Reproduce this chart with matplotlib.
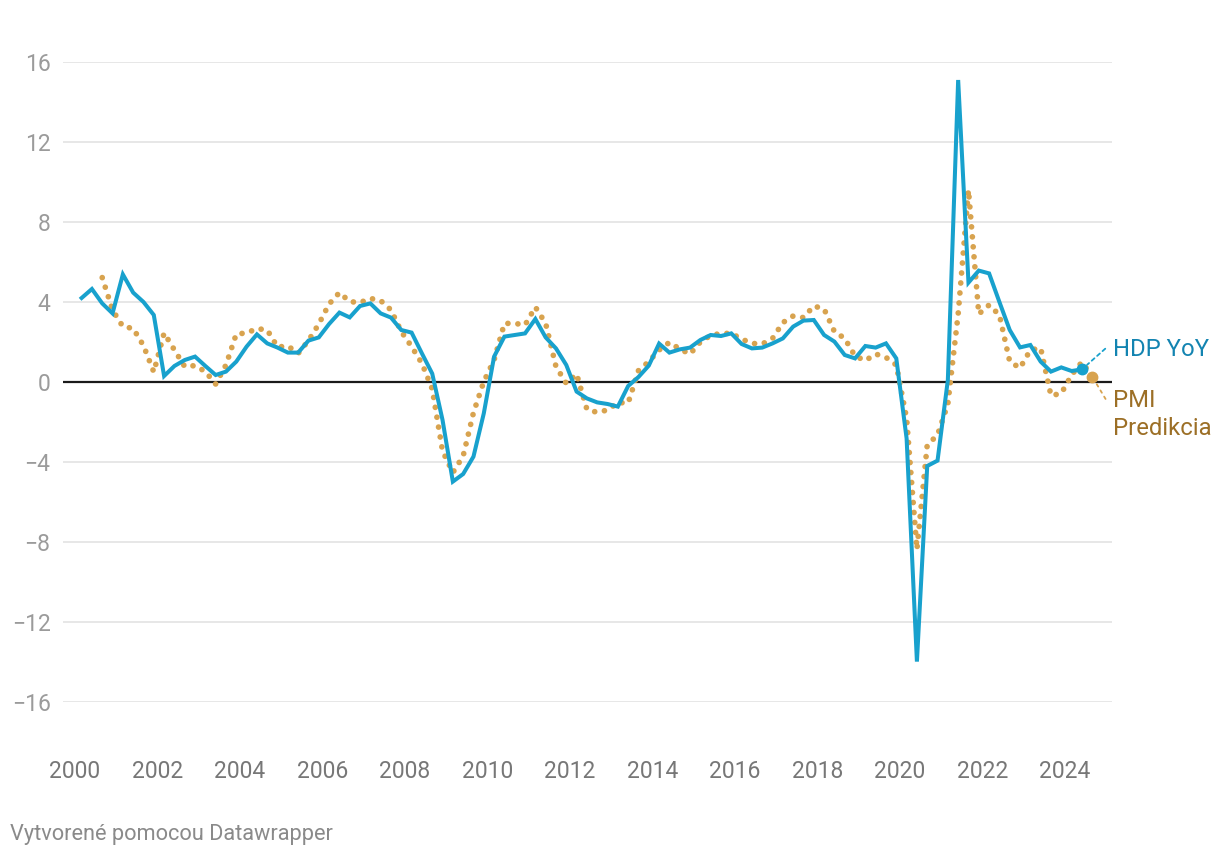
import matplotlib
matplotlib.use("Agg")
import matplotlib.pyplot as plt
import numpy as np

plt.rcParams['font.family'] = ['Roboto', 'DejaVu Sans']

# Quarterly GDP YoY (HDP YoY), 2000Q1 .. 2024Q2
hdp_yoy = [
    4.2, 4.65, 3.93, 3.43,      # 2000
    5.38, 4.47, 4.0, 3.35,      # 2001
    0.3, 0.8, 1.1, 1.27,        # 2002
    0.8, 0.35, 0.52, 1.02,      # 2003
    1.77, 2.38, 1.93, 1.72,     # 2004
    1.47, 1.47, 2.07, 2.23,     # 2005
    2.9, 3.47, 3.23, 3.8,       # 2006
    3.93, 3.43, 3.22, 2.6,      # 2007
    2.47, 1.43, 0.42, -1.9,     # 2008
    -4.98, -4.6, -3.73, -1.57,  # 2009
    1.27, 2.27, 2.35, 2.43,     # 2010
    3.15, 2.23, 1.68, 0.85,     # 2011
    -0.48, -0.82, -1.02, -1.1,  # 2012
    -1.23, -0.2, 0.25, 0.82,    # 2013
    1.92, 1.47, 1.63, 1.72,     # 2014
    2.1, 2.35, 2.3, 2.43,       # 2015
    1.9, 1.68, 1.72, 1.93,      # 2016
    2.18, 2.77, 3.07, 3.1,      # 2017
    2.35, 2.02, 1.35, 1.18,     # 2018
    1.8, 1.72, 1.93, 1.18,      # 2019
    -2.82, -13.98, -4.2, -3.93, # 2020
    0.1, 15.1, 4.97, 5.57,      # 2021
    5.43, 4.0, 2.6, 1.73,       # 2022
    1.85, 1.02, 0.52, 0.73,     # 2023
    0.55, 0.63,                 # 2024
]

# PMI-based prediction, quarterly, 2000Q3 .. 2024Q3
pmi_pred = [
    5.22, 3.6,                  # 2000 Q3-Q4
    2.77, 2.68, 1.82, 0.5,      # 2001
    2.45, 1.6, 0.77, 0.82,      # 2002
    0.52, -0.1, 0.85, 2.4,      # 2003
    2.45, 2.67, 2.6, 1.75,      # 2004
    1.8, 1.43, 2.07, 2.9,       # 2005
    3.9, 4.47, 4.02, 3.97,      # 2006
    4.18, 4.07, 3.6, 2.52,      # 2007
    1.77, 0.93, -0.35, -3.45,   # 2008
    -4.53, -3.7, -1.53, 0.02,   # 2009
    1.1, 2.93, 2.93, 2.85,      # 2010
    3.75, 2.93, 0.77, -0.07,    # 2011
    0.4, -1.37, -1.52, -1.4,    # 2012
    -1.03, -1.05, 0.57, 1.02,   # 2013
    1.6, 1.98, 1.65, 1.4,       # 2014
    2.0, 2.33, 2.43, 2.43,      # 2015
    2.15, 1.93, 1.9, 2.18,      # 2016
    2.97, 3.3, 3.22, 3.8,       # 2017
    3.65, 2.52, 2.18, 1.3,      # 2018
    1.07, 1.4, 1.23, 0.85,      # 2019
    -1.82, -8.37, -3.15, -2.65, # 2020
    -1.1, 3.4, 9.6, 3.4,        # 2021
    3.85, 3.35, 1.02, 0.7,      # 2022
    1.6, 1.7, -0.68, -0.57,     # 2023
    0.35, 1.0, 0.27,            # 2024 Q1-Q3
]

start_year = 2000
hdp_first_q = 0     # 2000Q1
pmi_first_q = 2     # 2000Q3
x_ticks = list(range(2000, 2025, 2))
y_ticks = [-16, -12, -8, -4, 0, 4, 8, 12, 16]
label_hdp = "HDP YoY"
label_pmi = ["PMI", "Predikcia"]
footer = "Vytvorené pomocou Datawrapper"

def qpos(first, n):
    return start_year + 0.16 + 0.25 * (first + np.arange(n))

x_hdp = qpos(hdp_first_q, len(hdp_yoy))
x_pmi = qpos(pmi_first_q, len(pmi_pred))

BLUE = "#18a1cd"
BLUE_TXT = "#1384b1"
TAN = "#d8a34f"
TAN_TXT = "#9c6f26"

W, H = 1220, 858
fig = plt.figure(figsize=(W / 100, H / 100), dpi=100)
left, right, top, bottom = 63, 1112, 62, 702
ax = fig.add_axes([left / W, 1 - bottom / H, (right - left) / W, (bottom - top) / H])

px_per_year = 41.25
ax.set_xlim(2000 - (75 - left) / px_per_year, 2000 + (right - 75) / px_per_year)
ax.set_ylim(-16, 16)

for s in ax.spines.values():
    s.set_visible(False)
ax.set_yticks(y_ticks)
ax.set_xticks(x_ticks)
ax.set_xticklabels([str(t) for t in x_ticks])
ax.set_yticklabels([str(t).replace('-', '\u2212') for t in y_ticks])
ax.tick_params(axis='length' if False else 'both', length=0)
ax.tick_params(axis='y', labelsize=16.5, labelcolor='#9b9b9b', pad=9)
ax.tick_params(axis='x', labelsize=16.5, labelcolor='#777777', pad=42)
ax.grid(axis='y', color='#e3e3e3', linewidth=1.2)
ax.grid(axis='x', visible=False)
ax.set_axisbelow(True)
ax.axhline(0, color='#1a1a1a', linewidth=1.6, zorder=2)

ax.plot(x_pmi, pmi_pred, color=TAN, linewidth=4.1, linestyle=(0, (0.01, 1.75)),
        dash_capstyle='round', zorder=3, clip_on=False)
ax.plot(x_hdp, hdp_yoy, color=BLUE, linewidth=2.9, solid_joinstyle='miter',
        zorder=4, clip_on=False)

# end points
ax.plot([x_pmi[-1]], [pmi_pred[-1]], 'o', color=TAN, markersize=7.5, zorder=5, clip_on=False)
ax.plot([x_hdp[-1]], [hdp_yoy[-1]], 'o', color=BLUE, markersize=7.5, zorder=6, clip_on=False)

# leader lines
ax.annotate('', xy=(x_hdp[-1], hdp_yoy[-1]), xytext=(16.8, 14.9), textcoords='offset points',
            arrowprops=dict(arrowstyle='-', color=BLUE, lw=1.3, linestyle=(0, (2, 2)),
                            shrinkA=0, shrinkB=5), annotation_clip=False)
ax.annotate('', xy=(x_pmi[-1], pmi_pred[-1]), xytext=(9.6, -16.1), textcoords='offset points',
            arrowprops=dict(arrowstyle='-', color=TAN, lw=1.3, linestyle=(0, (1.5, 2.5)),
                            shrinkA=0, shrinkB=5), annotation_clip=False)

ax.annotate(label_hdp, xy=(x_hdp[-1], hdp_yoy[-1]), xytext=(22.7, 9.4), textcoords='offset points',
            ha='left', va='baseline', fontsize=17.2, color=BLUE_TXT, annotation_clip=False)
ax.annotate(label_pmi[0], xy=(x_pmi[-1], pmi_pred[-1]), xytext=(14.6, -22.0), textcoords='offset points',
            ha='left', va='baseline', fontsize=17.2, color=TAN_TXT, annotation_clip=False)
ax.annotate(label_pmi[1], xy=(x_pmi[-1], pmi_pred[-1]), xytext=(14.6, -42.2), textcoords='offset points',
            ha='left', va='baseline', fontsize=17.2, color=TAN_TXT, annotation_clip=False)

fig.text(10 / W, 1 - 840 / H, footer, ha='left', va='baseline', fontsize=15.7, color='#8a8a8a')

fig.savefig("out.png", dpi=100)
